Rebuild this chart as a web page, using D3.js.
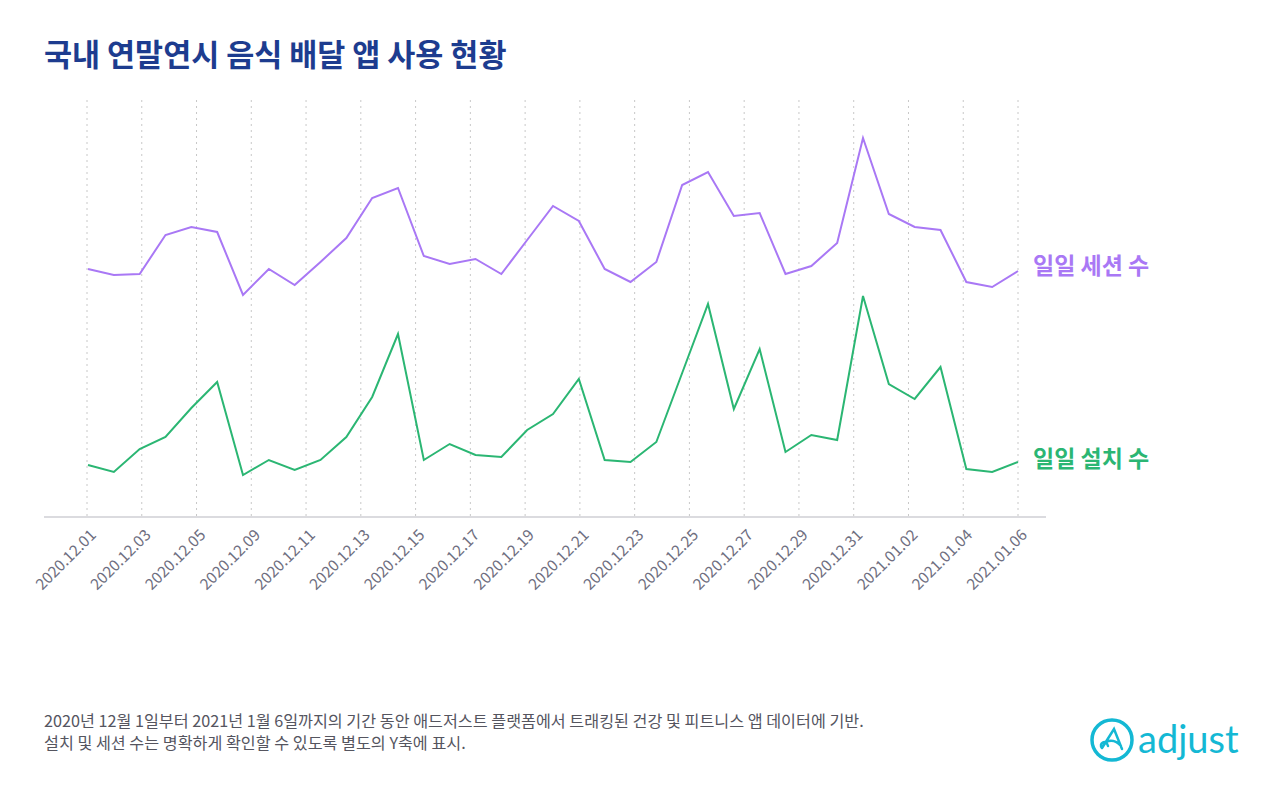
<!DOCTYPE html>
<html>
<head>
<meta charset="utf-8">
<script src="https://d3js.org/d3.v7.min.js"></script>
<style>
  body { margin: 0; background: #fff; }
  text { font-family: "Noto Sans CJK KR", "Noto Sans", sans-serif; }
</style>
</head>
<body>
<svg width="1280" height="794"></svg>
<script>
var tickLabels = ["2020.12.01","2020.12.03","2020.12.05","2020.12.09","2020.12.11","2020.12.13",
  "2020.12.15","2020.12.17","2020.12.19","2020.12.21","2020.12.23","2020.12.25","2020.12.27",
  "2020.12.29","2020.12.31","2021.01.02","2021.01.04","2021.01.06"];

// 37 daily points, 2020.12.01 – 2021.01.06 (index units, separate axes)
var sessions = [247,241,242,281,289,284,221,247,231,254,278,318,328,260,252,257,242,276,310,295,
  247,234,254,331,344,300,303,242,250,273,378,302,289,286,234,229,245];
var installs = [51,44,67,79,108,134,41,56,46,56,79,119,182,56,72,61,59,86,102,137,
  56,54,74,143,212,107,167,64,81,76,220,132,117,149,47,44,54];

var svg = d3.select("svg");
var x0 = 88, x1 = 1018, plotTop = 96, base = 516;

var days = d3.range(sessions.length);
var x = d3.scalePoint().domain(days).range([x0, x1]);
var xt = d3.scalePoint().domain(tickLabels).range([87, x1]);
var ys = d3.scaleLinear().domain([0, 420]).range([base, plotTop]);
var yi = d3.scaleLinear().domain([0, 420]).range([base, plotTop]);

svg.append("text").attr("x", 44).attr("y", 66)
  .style("font-size", "30.5px").style("font-weight", 700).attr("fill", "#1d3c8f")
  .text("국내 연말연시 음식 배달 앱 사용 현황");

// grid
svg.append("g").selectAll("line").data(tickLabels).join("line")
  .attr("x1", d => xt(d)).attr("x2", d => xt(d))
  .attr("y1", 100).attr("y2", base)
  .attr("stroke", "#c8c8c8").attr("stroke-dasharray", "2,4");

svg.append("line").attr("x1", 44).attr("x2", 1046).attr("y1", base + 1).attr("y2", base + 1)
  .attr("stroke", "#cfcfd4").attr("stroke-width", 1.5);

svg.append("g").selectAll("text").data(tickLabels).join("text")
  .attr("transform", d => "translate(" + (xt(d) + 10) + "," + 536 + ") rotate(-45)")
  .attr("text-anchor", "end").style("font-size", "15.5px").attr("fill", "#6e6e80")
  .text(d => d);

function drawLine(vals, y, color) {
  svg.append("path").datum(vals)
    .attr("fill", "none").attr("stroke", color).attr("stroke-width", 2)
    .attr("d", d3.line().x((d, i) => x(i)).y(d => y(d)));
}
drawLine(sessions, ys, "#a978f5");
drawLine(installs, yi, "#2bb673");

svg.append("text").attr("x", 1033).attr("y", 274).style("font-size", "23px")
  .style("font-weight", 700).attr("fill", "#a978f5").text("일일 세션 수");
svg.append("text").attr("x", 1033).attr("y", 467).style("font-size", "23px")
  .style("font-weight", 700).attr("fill", "#2bb673").text("일일 설치 수");

var notes = ["2020년 12월 1일부터 2021년 1월 6일까지의 기간 동안 애드저스트 플랫폼에서 트래킹된 건강 및 피트니스 앱 데이터에 기반.",
  "설치 및 세션 수는 명확하게 확인할 수 있도록 별도의 Y축에 표시."];
svg.append("g").selectAll("text").data(notes).join("text")
  .attr("x", 44).attr("y", (d, i) => 727 + i * 22)
  .style("font-size", "16.2px").attr("fill", "#55555f").text(d => d);

// logo
var logo = svg.append("g").attr("transform", "translate(1112,740)");
logo.append("circle").attr("r", 20).attr("fill", "none").attr("stroke", "#14b8d4").attr("stroke-width", 3.5);
logo.append("path").attr("d", "M-10,8 L2,-11 L10,9 M-6,2 C-2,0 4,0 9,6 M-10,8 C-14,4 -6,-2 -4,6")
  .attr("fill", "none").attr("stroke", "#14b8d4").attr("stroke-width", 2.5).attr("stroke-linecap", "round");
svg.append("text").attr("x", 1138).attr("y", 753).style("font-size", "38px")
  .style("font-family", "Lato, sans-serif").attr("fill", "#14b8d4").text("adjust");
</script>
</body>
</html>
